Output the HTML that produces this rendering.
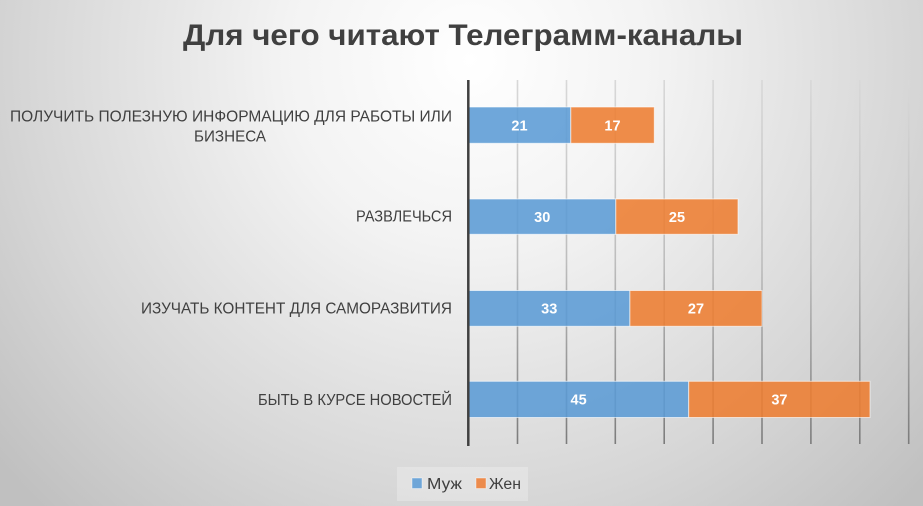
<!DOCTYPE html>
<html>
<head>
<meta charset="utf-8">
<style>
html,body{margin:0;padding:0;width:923px;height:506px;overflow:hidden;}
svg{display:block;}
text{font-family:"Liberation Sans","Noto Sans CJK SC",sans-serif;}
</style>
</head>
<body>
<svg width="923" height="506" viewBox="0 0 923 506" xmlns="http://www.w3.org/2000/svg">
<defs>
<radialGradient id="bg" gradientUnits="userSpaceOnUse" cx="470" cy="60" r="620">
<stop offset="0" stop-color="#ffffff"/>
<stop offset="0.3" stop-color="#f3f3f3"/>
<stop offset="0.72" stop-color="#d6d6d6"/>
<stop offset="1" stop-color="#c0c0c0"/>
</radialGradient>
<linearGradient id="grid" gradientUnits="userSpaceOnUse" x1="0" y1="80" x2="0" y2="444">
<stop offset="0" stop-color="#d8d8d8"/>
<stop offset="0.5" stop-color="#bdbdbd"/>
<stop offset="1" stop-color="#7c7c7c"/>
</linearGradient>
</defs>
<rect x="0" y="0" width="923" height="506" fill="url(#bg)"/>

<text x="463" y="45" text-anchor="middle" font-size="30" font-weight="bold" fill="#404040" textLength="560" lengthAdjust="spacingAndGlyphs">Для чего читают Телеграмм-каналы</text>

<g stroke="url(#grid)" stroke-width="1.6">
<line x1="517.5" y1="80" x2="517.5" y2="444"/>
<line x1="566.5" y1="80" x2="566.5" y2="444"/>
<line x1="615.3" y1="80" x2="615.3" y2="444"/>
<line x1="664.2" y1="80" x2="664.2" y2="444"/>
<line x1="713.1" y1="80" x2="713.1" y2="444"/>
<line x1="762" y1="80" x2="762" y2="444"/>
<line x1="810.9" y1="80" x2="810.9" y2="444"/>
<line x1="859.8" y1="80" x2="859.8" y2="444"/>
<line x1="908.7" y1="80" x2="908.7" y2="444"/>
</g>

<g stroke="#ffffff" stroke-opacity="0.6" stroke-width="1">
<rect x="468.5" y="107" width="102.3" height="36.3" fill="#5b9bd5" fill-opacity="0.88"/>
<rect x="570.8" y="107" width="83.5" height="36.3" fill="#ed7d31" fill-opacity="0.88"/>
<rect x="468.5" y="199" width="147.3" height="35.3" fill="#5b9bd5" fill-opacity="0.88"/>
<rect x="615.8" y="199" width="122.2" height="35.3" fill="#ed7d31" fill-opacity="0.88"/>
<rect x="468.5" y="290.5" width="161.4" height="35.8" fill="#5b9bd5" fill-opacity="0.88"/>
<rect x="629.9" y="290.5" width="132.1" height="35.8" fill="#ed7d31" fill-opacity="0.88"/>
<rect x="468.5" y="381.3" width="220.2" height="36.2" fill="#5b9bd5" fill-opacity="0.88"/>
<rect x="688.7" y="381.3" width="181.3" height="36.2" fill="#ed7d31" fill-opacity="0.88"/>
</g>

<line x1="468.3" y1="80" x2="468.3" y2="446" stroke="#404040" stroke-width="2.5"/>

<g font-size="14.5" font-weight="bold" fill="#ffffff" text-anchor="middle">
<text x="519.5" y="130.3">21</text>
<text x="612.5" y="130.3">17</text>
<text x="542.2" y="221.8">30</text>
<text x="677" y="221.8">25</text>
<text x="549.2" y="313.5">33</text>
<text x="696" y="313.5">27</text>
<text x="578.6" y="404.5">45</text>
<text x="779.4" y="404.5">37</text>
</g>

<g font-size="15.5" fill="#404040">
<text x="452" y="121.5" text-anchor="end" textLength="442" lengthAdjust="spacingAndGlyphs">ПОЛУЧИТЬ ПОЛЕЗНУЮ ИНФОРМАЦИЮ ДЛЯ РАБОТЫ ИЛИ</text>
<text x="230" y="141.7" text-anchor="middle" textLength="72" lengthAdjust="spacingAndGlyphs">БИЗНЕСА</text>
<text x="452" y="221.7" text-anchor="end" textLength="96" lengthAdjust="spacingAndGlyphs">РАЗВЛЕЧЬСЯ</text>
<text x="452" y="313.3" text-anchor="end" textLength="311" lengthAdjust="spacingAndGlyphs">ИЗУЧАТЬ КОНТЕНТ ДЛЯ САМОРАЗВИТИЯ</text>
<text x="452" y="405" text-anchor="end" textLength="194" lengthAdjust="spacingAndGlyphs">БЫТЬ В КУРСЕ НОВОСТЕЙ</text>
</g>

<rect x="397" y="467" width="131" height="34" fill="#ffffff" fill-opacity="0.25"/>
<rect x="412" y="478" width="10" height="10.5" fill="#6fa6d8" stroke="#ffffff" stroke-opacity="0.5" stroke-width="0.8"/>
<text x="427" y="489" font-size="15.5" fill="#404040" textLength="35" lengthAdjust="spacingAndGlyphs">Муж</text>
<rect x="476" y="478" width="10" height="10.5" fill="#ec8b4c" stroke="#ffffff" stroke-opacity="0.5" stroke-width="0.8"/>
<text x="489" y="489" font-size="15.5" fill="#404040" textLength="32" lengthAdjust="spacingAndGlyphs">Жен</text>
</svg>
</body>
</html>
